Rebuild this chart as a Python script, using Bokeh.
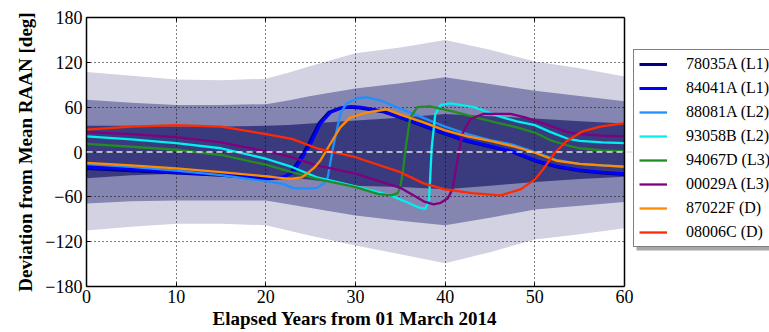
from bokeh.plotting import figure
from bokeh.models import (Legend, LegendItem, LinearAxis, Span, FixedTicker, Range1d,
                          BoxAnnotation, Title)
from bokeh.embed import file_html
from bokeh.resources import INLINE

# ---------------- data ----------------
x_ticks = [0, 10, 20, 30, 40, 50, 60]
y_ticks = [-180, -120, -60, 0, 60, 120, 180]
y_tick_labels = ["\u2212180", "\u2212120", "\u221260", "0", "60", "120", "180"]

band_years = [0, 5, 10, 15, 20, 22.5, 25, 30, 35, 40, 45, 50, 55, 60]
outer_hi = [107, 102, 97, 96, 98, 106, 115, 132, 140, 150, 137, 121, 112, 101]
mid_hi = [70, 66, 63, 63, 64, 69, 75, 85, 92, 100, 91, 82, 75, 68]
inner_hi = [35, 35, 34, 34, 35, 36, 38, 42, 46, 51, 48, 45, 41, 38]
inner_lo = [-35, -31, -29, -29, -31, -34, -37, -45, -47, -50, -45, -40, -36, -33]
mid_lo = [-69, -66, -65, -65, -65, -70, -75, -85, -92, -98, -88, -77, -72, -67]
outer_lo = [-105, -100, -96, -96, -98, -105, -112, -125, -137, -149, -134, -117, -110, -102]

names = ["78035A (L1)", "84041A (L1)", "88081A (L2)", "93058B (L2)",
         "94067D (L3)", "00029A (L3)", "87022F (D)", "08006C (D)"]

yrs_78035A = [0, 5, 10, 15, 20, 22, 22.8, 23.7, 24.8, 25.9, 27, 28.3, 29.3, 30.5, 33, 35, 37.5, 40, 42.5, 45, 47.5, 50, 52.5, 55, 57.5, 60]
val_78035A = [-22, -25, -28, -31, -36, -34, -28, -11, 11, 38, 53, 59, 60, 59, 54, 46, 35, 24, 14, 7, 0, -12, -20, -25, -28, -30]

yrs_84041A = [0, 5, 10, 15, 20, 22, 23, 23.9, 25, 26.1, 27.2, 28.5, 29.5, 30.6, 33, 35, 37.5, 40, 42.5, 45, 47.5, 50, 52.5, 55, 57.5, 60]
val_84041A = [-20, -23, -27, -30, -35, -33, -28, -11, 11, 38, 53, 59, 61, 60, 55, 47, 36, 25, 15, 8, 1, -11, -19, -24, -27, -29]

yrs_88081A = [0, 5, 10, 15, 20, 22, 23, 24.5, 25.7, 26.5, 26.9, 27.5, 28.3, 29, 30.2, 31.3, 33, 35, 37.5, 40, 42.5, 45, 47.5, 50, 52.5, 55, 57.5, 60]
val_88081A = [-16, -20, -25, -31, -39, -43, -48, -49, -48, -42, -34, 6, 51, 65, 72, 73, 68, 58, 46, 34, 24, 16, 10, 0, -11, -16, -18, -20]

yrs_93058B = [0, 5, 10, 15, 20, 22.9, 25.7, 30, 33.9, 35.5, 37, 37.8, 38.2, 38.5, 38.9, 39.5, 40.6, 43.2, 46.2, 48, 50, 51.7, 53.6, 55, 57.5, 60]
val_93058B = [21, 17, 12, 5, -9, -20, -34, -46, -58, -66, -74, -76, -65, 6, 51, 63, 65, 60, 47, 41, 36, 27, 18, 15, 13, 12]

yrs_94067D = [0, 5, 10, 15, 20, 22.9, 25.7, 30, 32.5, 34, 34.7, 35, 35.3, 35.6, 36.1, 36.9, 38.3, 41.3, 43.5, 46.2, 48, 50, 51.7, 53.6, 55, 57.5, 60]
val_94067D = [11, 7, 3, -4, -17, -27, -36, -47, -56, -58, -55, -47, -25, 6, 46, 60, 61, 53, 46, 38, 33, 26, 16, 9, 5, 2, 1]

yrs_00029A = [0, 5, 10, 15, 20, 22.9, 25.7, 30, 35, 37.6, 38.7, 39.5, 40.3, 40.8, 41.3, 41.9, 42.8, 44.3, 47.3, 49, 51, 53.6, 55, 57.5, 60]
val_00029A = [26.5, 24, 20, 13, 1, -7, -18, -29, -48, -66, -70, -68, -62, -50, -16, 24, 44, 51, 51, 46, 38, 27, 24, 22, 21]

yrs_87022F = [0, 5, 10, 15, 19.2, 22.7, 24, 24.6, 25.4, 26.1, 27.2, 28.3, 29.4, 31.3, 33.5, 35, 37.5, 40, 42.5, 45, 47.5, 50, 52.5, 55, 57.5, 60]
val_87022F = [-14.5, -18, -22, -27, -31.5, -36, -34, -29, -21, -11, 11, 33, 46, 53, 57, 50, 40, 29, 21, 15, 8, -1, -12, -16, -18, -19.5]

yrs_08006C = [0, 5, 10, 15, 20, 22.9, 25.7, 30, 35, 37.6, 40, 43, 46.2, 48.4, 50, 51, 52.3, 53.6, 55.4, 57.3, 60]
val_08006C = [30, 34, 36, 34, 24, 17.6, 5, -7, -27, -42, -50, -55, -58, -50, -37, -22, 0, 15, 28, 34, 38.6]

series_x = [yrs_78035A, yrs_84041A, yrs_88081A, yrs_93058B, yrs_94067D, yrs_00029A, yrs_87022F, yrs_08006C]
series_y = [val_78035A, val_84041A, val_88081A, val_93058B, val_94067D, val_00029A, val_87022F, val_08006C]
colors = ["#000080", "#0000ff", "#1e90ff", "#00f0f0", "#228b22", "#800080", "#ff8c00", "#ff2a00"]
widths = [3, 3, 2.3, 2.3, 2.3, 2.3, 2.3, 2.3]

FONT = "Liberation Serif"

# ---------------- layout geometry (pixels) ----------------
W, H = 769, 332
AX_L, AX_R, AX_T, AX_B = 86, 624, 17, 286     # visible plot box
X_MIN, X_MAX, Y_MIN, Y_MAX = 0, 60, -180, 180
px_per_x = (AX_R - AX_L) / (X_MAX - X_MIN)
px_per_y = (AX_B - AX_T) / (Y_MAX - Y_MIN)
x_end = X_MIN + (W - AX_L) / px_per_x          # frame extends to canvas edge (legend lives there)

p = figure(width=W, height=H, x_range=Range1d(X_MIN, x_end), y_range=Range1d(Y_MIN, Y_MAX),
           output_backend="svg", toolbar_location=None,
           min_border_left=AX_L, min_border_right=0, min_border_top=AX_T,
           min_border_bottom=H - AX_B)
p.background_fill_color = "white"
p.border_fill_color = "white"
p.outline_line_color = None

# bands
for lo, hi, col in [(outer_lo, outer_hi, "#d2d2e2"), (mid_lo, mid_hi, "#8585b1"),
                    (inner_lo, inner_hi, "#393b7e")]:
    r = p.varea(x=band_years, y1=lo, y2=hi, fill_color=col)
    r.level = "image"

# zero line
p.add_layout(Span(location=0, dimension="width", line_color="#e4e4ee",
                  line_dash="6 4", line_width=1.5))

# series lines
renderers = []
for xs, ys, c, w in zip(series_x, series_y, colors, widths):
    renderers.append(p.line(xs, ys, line_color=c, line_width=w))

# grid
p.xgrid.ticker = FixedTicker(ticks=x_ticks)
p.ygrid.ticker = FixedTicker(ticks=y_ticks)
p.ygrid.cross_bounds = (X_MIN, X_MAX)
for g in (p.xgrid, p.ygrid):
    g.grid_line_color = "black"
    g.grid_line_dash = "1 3"
    g.grid_line_width = 1
    g.grid_line_alpha = 1.0

# right edge of the plot box
p.add_layout(Span(location=X_MAX, dimension="height", line_color="black", line_width=1.5))

# axes
xa = p.xaxis[0]
ya = p.yaxis[0]
xa.ticker = FixedTicker(ticks=x_ticks)
ya.ticker = FixedTicker(ticks=y_ticks)
xa.bounds = (X_MIN, X_MAX)
ya.major_label_overrides = dict(zip(y_ticks, y_tick_labels))
ya.axis_label = "Deviation from Mean RAAN [deg]"
for ax in (xa, ya):
    ax.major_tick_in = 4
    ax.major_tick_out = 0
    ax.minor_tick_line_color = None
    ax.axis_line_color = "black"
    ax.axis_line_width = 1.5
    ax.major_label_text_font = FONT
    ax.major_label_text_font_size = "18px"
    ax.major_label_text_color = "black"
    ax.axis_label_text_font = FONT
    ax.axis_label_text_font_size = "19px"
    ax.axis_label_text_font_style = "bold"
    ax.axis_label_text_color = "black"
xa.major_label_standoff = 3
ya.major_label_standoff = 4
ya.axis_label_standoff = 6

top_ax = LinearAxis(ticker=FixedTicker(ticks=x_ticks), major_tick_in=4, major_tick_out=0,
                    minor_tick_line_color=None, axis_line_color="black", axis_line_width=1.5,
                    bounds=(X_MIN, X_MAX),
                    major_label_overrides={t: "" for t in x_ticks}, major_label_standoff=0)
p.add_layout(top_ax, "above")

# x-axis title, placed under the visible plot box
xlabel = "Elapsed Years from 01 March 2014"
XLABEL_LEFT = 212
p.add_layout(Title(text=xlabel, align="left", offset=XLABEL_LEFT - AX_L, standoff=0,
                   text_font=FONT, text_font_size="19px", text_font_style="bold",
                   text_color="black"), "below")

# legend (box sits just right of the plot box, clipped by the window like the reference)
LEG_L, LEG_T, LEG_B = 633, 52, 247
shadow = BoxAnnotation(left=X_MIN + (LEG_L + 3 - AX_L) / px_per_x, right=x_end + 5,
                       top=Y_MAX - (LEG_T + 3 - AX_T) / px_per_y,
                       bottom=Y_MAX - (LEG_B + 3 - AX_T) / px_per_y,
                       fill_color="#a8a8a8", fill_alpha=1, line_color=None)
p.add_layout(shadow)

legend = Legend(items=[LegendItem(label=n, renderers=[r]) for n, r in zip(names, renderers)],
                location=(LEG_L - AX_L, AX_B - LEG_B), padding=5, spacing=6,
                label_height=18, glyph_height=18, glyph_width=28, label_standoff=19, margin=0,
                border_line_color="black", border_line_width=1.2,
                background_fill_color="white", background_fill_alpha=1,
                label_text_font=FONT, label_text_font_size="16px", label_text_color="black")
p.add_layout(legend)

open("out.html", "w").write(file_html(p, INLINE))
